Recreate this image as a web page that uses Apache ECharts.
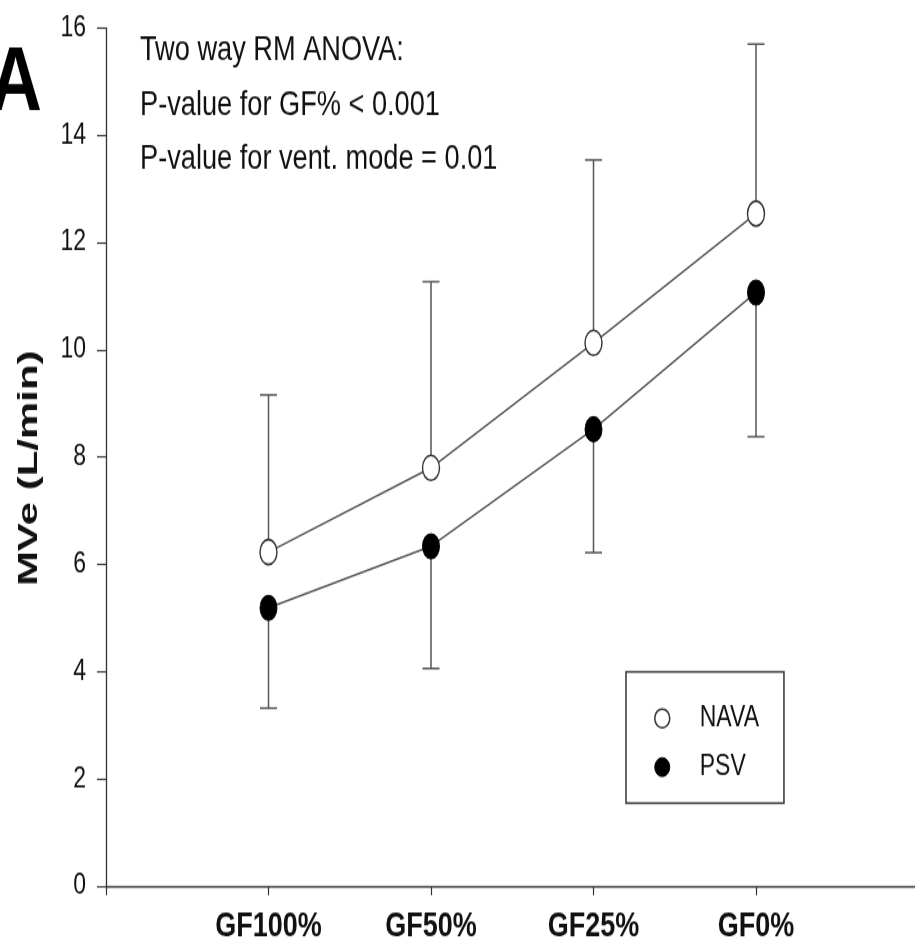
<!DOCTYPE html>
<html>
<head>
<meta charset="utf-8">
<script src="https://cdn.jsdelivr.net/npm/echarts@6/dist/echarts.min.js"></script>
<style>
  html, body { margin: 0; padding: 0; background: #fff; overflow: hidden; }
  #wrap { width: 915px; height: 951px; overflow: hidden; }
  /* the figure is drawn at a lower height and stretched vertically */
  #chart { width: 915px; height: 760.8px; transform: scaleY(1.25); transform-origin: 0 0; }
</style>
</head>
<body>
<div id="wrap"><div id="chart"></div></div>
<script>
// Minute ventilation by gas fraction step, mean with one-sided SD bars
const categories = ['GF100%', 'GF50%', 'GF25%', 'GF0%'];
const navaMean  = [6.23, 7.80, 10.13, 12.54];
const navaUpper = [9.16, 11.27, 13.54, 15.70];
const psvMean   = [5.19, 6.34, 8.52, 11.07];
const psvLower  = [3.32, 4.06, 6.22, 8.38];
const yTicks = [0, 2, 4, 6, 8, 10, 12, 14, 16];
const statLines = [
  'Two way RM ANOVA:',
  'P-value for GF% < 0.001',
  'P-value for vent. mode = 0.01'
];

const FONT = '"Liberation Sans", Arial, Helvetica, sans-serif';
const INK = '#111';
const GREY = '#555';

const points = arr => arr.map((v, i) => [i + 1, v]);
const bars = (mean, bound) => mean.map((v, i) => [i + 1, v, bound[i]]);

function renderErrorBar(params, api) {
  const x = api.value(0);
  const m = api.coord([x, api.value(1)]);
  const e = api.coord([x, api.value(2)]);
  const hw = 8.5;
  const st = { stroke: GREY, lineWidth: 1.5 };
  return {
    type: 'group',
    children: [
      { type: 'line', shape: { x1: m[0], y1: m[1], x2: e[0], y2: e[1] }, style: st },
      { type: 'line', shape: { x1: e[0] - hw, y1: e[1], x2: e[0] + hw, y2: e[1] }, style: st }
    ]
  };
}

const chart = echarts.init(document.getElementById('chart'), null, { renderer: 'canvas' });

chart.setOption({
  animation: false,
  backgroundColor: '#fff',
  grid: {
    left: 106, top: 22.4, width: 812.5, bottom: 52,
    containLabel: false, outerBoundsMode: 'none'
  },
  xAxis: {
    type: 'value', min: 0, max: 5, interval: 1,
    splitLine: { show: false },
    axisLine: { show: true, onZero: false, lineStyle: { color: '#333', width: 1.3 } },
    axisTick: { show: true, inside: false, length: 7.2, lineStyle: { color: '#333', width: 1.2 } },
    axisLabel: {
      margin: 19,
      fontFamily: FONT, fontSize: 27, fontWeight: 'bold', color: INK,
      formatter: v => categories[v - 1] || ''
    }
  },
  yAxis: {
    type: 'value', min: yTicks[0], max: yTicks[yTicks.length - 1], interval: 2,
    splitLine: { show: false },
    axisLine: { show: true, lineStyle: { color: '#333', width: 1.3 } },
    axisTick: { show: true, inside: false, length: 9, lineStyle: { color: '#333', width: 1.2 } },
    axisLabel: {
      margin: 20,
      fontFamily: FONT, fontSize: 23, color: INK,
      formatter: v => (yTicks.indexOf(v) >= 0 ? String(v) : '')
    }
  },
  legend: {
    orient: 'vertical',
    left: 626, top: 537.6,
    padding: [25.6, 25, 17.4, 28],
    itemGap: 16,
    itemWidth: 15, itemHeight: 17,
    borderColor: '#333', borderWidth: 1.5,
    icon: 'circle',
    textStyle: {
      fontFamily: FONT, fontSize: 23, color: INK,
      lineHeight: 17, padding: [0, 0, 0, 25]
    },
    data: [
      { name: 'NAVA', itemStyle: { color: '#fff', borderColor: '#333', borderWidth: 1.5 } },
      { name: 'PSV', itemStyle: { color: '#000', borderColor: '#000', borderWidth: 1 } }
    ]
  },
  graphic: [
    {
      type: 'text', x: 42, y: 67.6, z: 10,
      style: {
        text: 'A', align: 'right', verticalAlign: 'middle',
        font: 'bold 73px ' + FONT, fill: '#000'
      }
    },
    {
      type: 'text', x: 140, y: 19.3, z: 10,
      style: {
        text: statLines.join('\n'), align: 'left', verticalAlign: 'top',
        font: '27.2px ' + FONT, lineHeight: 43.4, fill: INK
      }
    },
    {
      type: 'text', x: 29, y: 374.6, rotation: Math.PI / 2, scaleX: 1.2, z: 10,
      style: {
        text: 'MVe (L/min)', align: 'center', verticalAlign: 'middle',
        font: 'bold 28px ' + FONT, fill: INK
      }
    }
  ],
  series: [
    {
      name: 'NAVA-sd', type: 'custom', z: 1, silent: true,
      renderItem: renderErrorBar,
      encode: { x: 0, y: [1, 2] },
      data: bars(navaMean, navaUpper)
    },
    {
      name: 'PSV-sd', type: 'custom', z: 1, silent: true,
      renderItem: renderErrorBar,
      encode: { x: 0, y: [1, 2] },
      data: bars(psvMean, psvLower)
    },
    {
      name: 'NAVA', type: 'line', z: 3,
      data: points(navaMean),
      symbol: 'circle', symbolSize: [17, 20], symbolKeepAspect: false,
      lineStyle: { color: GREY, width: 1.5 },
      itemStyle: { color: '#fff', borderColor: '#333', borderWidth: 1.5 }
    },
    {
      name: 'PSV', type: 'line', z: 3,
      data: points(psvMean),
      symbol: 'circle', symbolSize: [17, 20], symbolKeepAspect: false,
      lineStyle: { color: GREY, width: 1.5 },
      itemStyle: { color: '#000', borderColor: '#000', borderWidth: 1 }
    }
  ]
});
</script>
</body>
</html>
